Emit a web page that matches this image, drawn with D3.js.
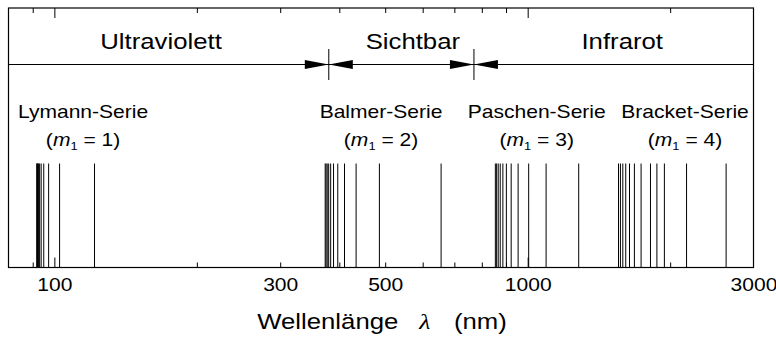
<!DOCTYPE html>
<html>
<head>
<meta charset="utf-8">
<script src="https://cdn.jsdelivr.net/npm/d3@7"></script>
<style>
  body { margin: 0; background: #fff; }
  svg text { font-family: "Liberation Sans", Arial, Helvetica, sans-serif; fill: #000; }
</style>
</head>
<body>
<svg id="chart" width="776" height="338"></svg>
<script>
// hydrogen lines (nm)
const lymanLines = [121.57, 102.57, 97.25, 94.97, 93.78, 93.07, 92.62, 92.31, 92.09, 91.93, 91.80];
const balmerLines = [656.3, 486.1, 434.0, 410.2, 397.0, 388.9, 383.5, 379.8, 377.1, 375.0, 373.4];
const paschenLines = [1875.1, 1281.8, 1093.8, 1004.9, 954.6, 922.9, 901.5, 886.3, 875.0, 866.5, 859.8, 854.5];
const bracketLines = [2625.9, 2166.1, 1944.6, 1817.4, 1736.2, 1680.7, 1641.2, 1611.4, 1588.5, 1570.3, 1555.7];

const seriesNames = ["Lymann-Serie", "Balmer-Serie", "Paschen-Serie", "Bracket-Serie"];
const seriesM = [1, 2, 3, 4];
const seriesLabelAt = [115, 490, 1045, 2150];

const regionNames = ["Ultraviolett", "Sichtbar", "Infrarot"];
const regionLabelAt = [168, 572, 1584];
const regionBounds = [380, 770];

const minorTicks = [90, 200, 300, 400, 500, 600, 700, 800, 900, 2000];
const majorTicks = [100, 1000];
const tickLabels = [100, 300, 500, 1000, 3000];

const svg = d3.select("#chart");
const frameL = 8.5, frameR = 753.5, frameT = 8, frameB = 267.5;
const stretch = 1.17;

const x = d3.scaleLog().domain([80, 3000]).range([frameL, frameR]);

// frame
svg.append("rect")
    .attr("x", frameL).attr("y", frameT)
    .attr("width", frameR - frameL).attr("height", frameB - frameT)
    .attr("fill", "none").attr("stroke", "#000").attr("stroke-width", 1.2);

// inward ticks, bottom and top
function ticks(axis, vals, size, y) {
    const g = svg.append("g")
        .attr("transform", `translate(0,${y})`)
        .call(axis(x).tickValues(vals).tickSize(-size).tickFormat(""));
    g.select(".domain").remove();
    g.selectAll("line").attr("stroke", "#000").attr("stroke-width", 1);
}
ticks(d3.axisBottom, minorTicks, 5, frameB);
ticks(d3.axisBottom, majorTicks, 10, frameB);
ticks(d3.axisTop, minorTicks, 5, frameT);
ticks(d3.axisTop, majorTicks, 10, frameT);

// tick labels
const lab = svg.append("g")
    .attr("transform", `translate(0,${frameB})`)
    .call(d3.axisBottom(x).tickValues(tickLabels).tickSize(0).tickPadding(11).tickFormat(d3.format("d")));
lab.select(".domain").remove();
lab.selectAll("text")
    .attr("font-size", 18)
    .attr("font-family", "Liberation Sans, Arial, sans-serif")
    .attr("fill", "#000")
    .attr("transform", `scale(${stretch},1)`);

// spectral lines
const allLines = [].concat(lymanLines, balmerLines, paschenLines, bracketLines);
svg.append("g").selectAll("line")
    .data(allLines)
    .join("line")
    .attr("x1", d => x(d)).attr("x2", d => x(d))
    .attr("y1", 163.5).attr("y2", frameB)
    .attr("stroke", "#000").attr("stroke-width", 1);

// region arrows
const arrowY = 64.5;
svg.append("line")
    .attr("x1", frameL).attr("x2", frameR)
    .attr("y1", arrowY).attr("y2", arrowY)
    .attr("stroke", "#000").attr("stroke-width", 1);
regionBounds.forEach(b => {
    const bx = x(b);
    svg.append("line")
        .attr("x1", bx).attr("x2", bx)
        .attr("y1", 49).attr("y2", 80)
        .attr("stroke", "#000").attr("stroke-width", 1);
    [-1, 1].forEach(s => {
        svg.append("path")
            .attr("d", `M${bx},${arrowY} L${bx + s * 24},${arrowY - 4.5} L${bx + s * 24},${arrowY + 4.5} Z`)
            .attr("fill", "#000");
    });
});

svg.append("g").selectAll("text")
    .data(regionNames)
    .join("text")
    .attr("transform", (d, i) => `translate(${x(regionLabelAt[i])},49) scale(${stretch},1)`)
    .attr("text-anchor", "middle")
    .attr("font-size", 22)
    .text(d => d);

// series labels
seriesNames.forEach((name, i) => {
    const cx = x(seriesLabelAt[i]);
    svg.append("text")
        .attr("transform", `translate(${cx},118) scale(${stretch},1)`)
        .attr("text-anchor", "middle")
        .attr("font-size", 18)
        .text(name);
    const t = svg.append("text")
        .attr("transform", `translate(${cx},146) scale(${stretch},1)`)
        .attr("text-anchor", "middle")
        .attr("font-size", 18);
    t.append("tspan").text("(");
    t.append("tspan").attr("font-style", "italic").text("m");
    t.append("tspan").attr("font-size", 11).attr("dy", 4).text("1");
    t.append("tspan").attr("dy", -4).text(` = ${seriesM[i]})`);
});

// axis title
const title = svg.append("text")
    .attr("transform", `translate(382,328.5) scale(${stretch},1)`)
    .attr("text-anchor", "middle")
    .attr("font-size", 22);
title.append("tspan").text("Wellenlänge");
title.append("tspan").attr("dx", 18)
    .attr("font-family", "Liberation Serif, serif").attr("font-style", "italic")
    .text("λ");
title.append("tspan").attr("dx", 20).text("(nm)");
</script>
</body>
</html>
